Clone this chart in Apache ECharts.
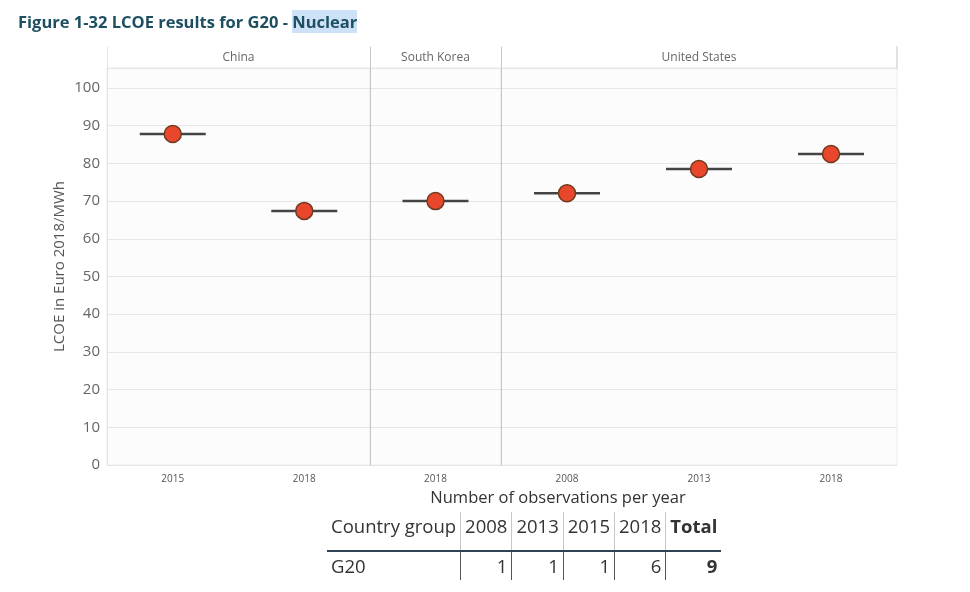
<!DOCTYPE html>
<html>
<head>
<meta charset="utf-8">
<script src="https://cdn.jsdelivr.net/npm/echarts@6/dist/echarts.min.js"></script>
<style>
  html, body { margin: 0; padding: 0; background: #fff; }
  #wrap { position: relative; width: 970px; height: 592px; overflow: hidden; }
  #chart { position: absolute; left: 0; top: 0; width: 970px; height: 592px; }
  #title { position: absolute; left: 18px; top: 10px; font-family: "Open Sans", sans-serif; font-weight: bold; font-size: 16.5px; color: #1d4f60; white-space: nowrap; }
  #title span { background: #cde1f7; }
  #caption { position: absolute; left: 0; width: 1116px; top: 485px; text-align: center; font-family: "Open Sans", sans-serif; font-size: 16.5px; color: #333; }
  #tbl { position: absolute; left: 327px; top: 512px; border-collapse: collapse; font-family: "Open Sans", sans-serif; font-size: 18.5px; color: #333; }
  #tbl td, #tbl th { padding: 0 4px; height: 28px; font-weight: normal; white-space: nowrap; }
  #tbl th { text-align: left; border-right: 1px solid #c8c8c8; border-bottom: 2px solid #2e4456; vertical-align: top; height: 38px; padding-top: 0; line-height: 28px; }
  #tbl th.num, #tbl td.num { text-align: right; }
  #tbl th.last, #tbl td.last { border-right: none; font-weight: bold; }
  #tbl td { border-right: 1px solid #555; line-height: 26px; }
</style>
</head>
<body>
<div id="wrap">
  <div id="chart"></div>
  <div id="title">Figure 1-32 LCOE results for G20 - <span>Nuclear</span></div>
  <div id="caption">Number of observations per year</div>
  <table id="tbl"><tr id="hdr"></tr><tr id="row"></tr></table>
</div>
<script>
// ---- data ----
const panelNames = ['China', 'South Korea', 'United States'];
const chinaYears = ['2015', '2018'];
const chinaValues = [87.8, 67.4];
const koreaYears = ['2018'];
const koreaValues = [70.0];
const usYears = ['2008', '2013', '2018'];
const usValues = [72.1, 78.5, 82.5];
const yTicks = [0, 10, 20, 30, 40, 50, 60, 70, 80, 90, 100];
const tableHeader = ['Country group', '2008', '2013', '2015', '2018', 'Total'];
const tableGroup = 'G20';
const tableCounts = [1, 1, 1, 6];
const tableTotal = 9;

// ---- table ----
const hdr = document.getElementById('hdr');
tableHeader.forEach((h, i) => {
  const th = document.createElement('th');
  th.textContent = h;
  if (i > 0) th.className = 'num';
  if (i === tableHeader.length - 1) th.className = 'num last';
  hdr.appendChild(th);
});
const row = document.getElementById('row');
const cells = [tableGroup].concat(tableCounts.map(String)).concat([String(tableTotal)]);
cells.forEach((c, i) => {
  const td = document.createElement('td');
  td.textContent = c;
  td.className = i === 0 ? 'first' : (i === cells.length - 1 ? 'num last' : 'num');
  row.appendChild(td);
});

// ---- chart ----
const panels = [
  { name: panelNames[0], years: chinaYears, values: chinaValues, left: 107, width: 263 },
  { name: panelNames[1], years: koreaYears, values: koreaValues, left: 370, width: 131 },
  { name: panelNames[2], years: usYears, values: usValues, left: 501, width: 396 }
];
const yMax = 105.3;
const lightLine = '#e2e2e2';
const sepLine = '#c6c6c6';
const grids = [], xAxes = [], yAxes = [], series = [];
panels.forEach((p, i) => {
  const edge = i === 0 ? lightLine : sepLine;
  // main grid
  grids.push({ left: p.left, width: p.width, top: 68, height: 397, show: true,
    backgroundColor: '#fcfcfc', borderColor: '#ececec', borderWidth: 1 });
  // header grid
  grids.push({ left: p.left, width: p.width, top: 47, height: 21, show: false });
  const gi = i * 2;
  const ya = yAxes.length;
  xAxes.push({ type: 'category', gridIndex: gi, data: p.years,
    axisLine: { show: false }, axisTick: { show: false },
    axisLabel: { fontSize: 10, color: '#555', margin: 9, fontFamily: 'Open Sans' } });
  xAxes.push({ type: 'category', gridIndex: gi + 1, data: [p.name],
    axisLine: { show: false }, axisTick: { show: false },
    axisLabel: { inside: true, margin: 4, fontSize: 12, color: '#666', fontFamily: 'Open Sans' } });
  yAxes.push({ type: 'value', gridIndex: gi, min: 0, max: yMax, interval: 10,
    name: i === 0 ? 'LCOE in Euro 2018/MWh' : '', nameLocation: 'middle', nameGap: 40,
    nameTextStyle: { fontSize: 15, color: '#555', fontFamily: 'Open Sans' },
    axisLine: { show: true, lineStyle: { color: edge } }, axisTick: { show: false },
    axisLabel: { show: i === 0, fontSize: 15, color: '#666', margin: 7, fontFamily: 'Open Sans',
      showMaxLabel: false,
      formatter: v => yTicks.indexOf(v) >= 0 ? String(v) : '' },
    splitLine: { show: true, lineStyle: { color: '#e6e6e6' } } });
  yAxes.push({ type: 'value', gridIndex: gi + 1, min: 0, max: 1,
    axisLine: { show: true, lineStyle: { color: edge } }, axisTick: { show: false },
    axisLabel: { show: false }, splitLine: { show: false } });
  if (i === panels.length - 1) {
    yAxes.push({ type: 'value', gridIndex: gi + 1, position: 'right', min: 0, max: 1,
      axisLine: { show: true, lineStyle: { color: lightLine, width: 2 } }, axisTick: { show: false },
      axisLabel: { show: false }, splitLine: { show: false } });
  }
  series.push({ type: 'scatter', xAxisIndex: gi, yAxisIndex: ya, data: p.values,
    symbol: 'rect', symbolSize: [66, 2.5], itemStyle: { color: '#444', opacity: 1 }, silent: true, z: 2 });
  series.push({ type: 'scatter', xAxisIndex: gi, yAxisIndex: ya, data: p.values,
    symbol: 'circle', symbolSize: 17,
    itemStyle: { color: '#e8472b', borderColor: '#6e3a22', borderWidth: 1.5, opacity: 1 }, z: 3 });
});
const chart = echarts.init(document.getElementById('chart'), null, { renderer: 'canvas' });
chart.setOption({ animation: false, grid: grids, xAxis: xAxes, yAxis: yAxes, series: series });
</script>
</body>
</html>
